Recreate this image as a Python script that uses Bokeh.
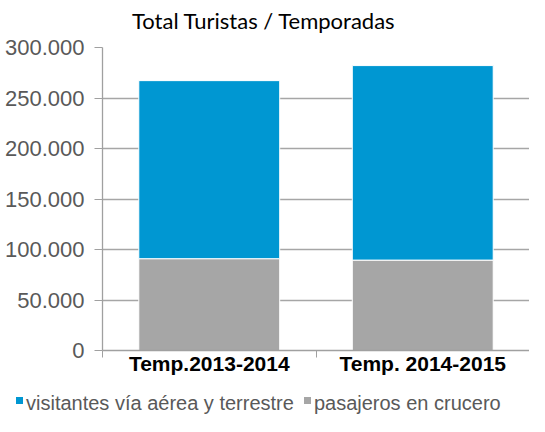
from bokeh.plotting import figure
from bokeh.layouts import column
from bokeh.models import Range1d, FixedTicker, ColumnDataSource, Div
from bokeh.embed import file_html
from bokeh.resources import INLINE

chart_title = "Total Turistas / Temporadas"
temporadas = ["Temp.2013-2014", "Temp. 2014-2015"]
pasajeros_crucero = [90900, 89500]
visitantes_aerea_terrestre = [176300, 192600]
y_ticks = [0, 50000, 100000, 150000, 200000, 250000, 300000]
series_labels = ["visitantes vía aérea y terrestre", "pasajeros en crucero"]

BLUE = "#0097D2"
GRAY = "#A6A6A6"

xpos = [i + 0.5 for i in range(len(temporadas))]
source = ColumnDataSource(dict(x=xpos, crucero=pasajeros_crucero, visitantes=visitantes_aerea_terrestre))

# title strip
title_div = Div(
    text=('<div style="font-family:Lato;font-size:22px;color:black;white-space:nowrap;'
          'line-height:26px;padding-top:8px;padding-left:132px">' + chart_title + '</div>'),
    width=529, height=34, margin=(0, 0, 0, 0))

p = figure(width=529, height=356, output_backend="svg", toolbar_location=None,
           x_range=Range1d(0, len(temporadas)), y_range=Range1d(0, 300000),
           min_border_left=102, min_border_right=0, min_border_top=13, min_border_bottom=40)
p.outline_line_color = None
p.background_fill_color = "white"

rs = p.vbar_stack(["crucero", "visitantes"], x="x", width=0.66, source=source,
                  color=[GRAY, BLUE], line_color="white", line_width=1)

# x axis
xa = p.xaxis[0]
xa.ticker = FixedTicker(ticks=xpos, minor_ticks=list(range(len(temporadas) + 1)))
xa.major_label_overrides = {xv: t for xv, t in zip(xpos, temporadas)}
xa.major_tick_out = 0
xa.major_tick_in = 0
xa.minor_tick_out = 7
xa.minor_tick_in = 0
xa.minor_tick_line_color = "#A0A0A0"
xa.axis_line_color = "#A0A0A0"
xa.axis_line_width = 1.3
xa.major_label_text_font = "Liberation Sans"
xa.major_label_text_font_size = "21px"
xa.major_label_text_font_style = "bold"
xa.major_label_text_color = "black"
xa.major_label_standoff = -6

# y axis
ya = p.yaxis[0]
ya.ticker = FixedTicker(ticks=y_ticks)
ya.major_label_overrides = {v: f"{v:,}".replace(",", ".") for v in y_ticks}
ya.major_tick_out = 8
ya.major_tick_in = 0
ya.minor_tick_line_color = None
ya.major_tick_line_color = "#A0A0A0"
ya.axis_line_color = "#A0A0A0"
ya.axis_line_width = 1.3
ya.major_label_text_font = "Liberation Sans"
ya.major_label_text_font_size = "22px"
ya.major_label_text_color = "#595959"
ya.major_label_standoff = 10

p.xgrid.grid_line_color = None
p.ygrid.grid_line_color = "#A6A6A6"
p.ygrid.grid_line_width = 1.3

# legend strip below the chart
def swatch(color, left):
    return (f'<span style="display:inline-block;width:7px;height:7px;background:{color};'
            f'margin-left:{left}px;margin-right:3px;vertical-align:6px"></span>')

legend_html = (
    '<div style="font-family:\'Liberation Sans\';font-size:20px;color:#595959;'
    'white-space:nowrap;line-height:26px;padding-left:16px">'
    + swatch(BLUE, 0) + series_labels[0]
    + swatch(GRAY, 10) + series_labels[1]
    + '</div>'
)
legend_div = Div(text=legend_html, width=529, height=26, margin=(0, 0, 0, 0))

layout = column(title_div, p, legend_div, spacing=0)
open("out.html", "w").write(file_html(layout, INLINE))
